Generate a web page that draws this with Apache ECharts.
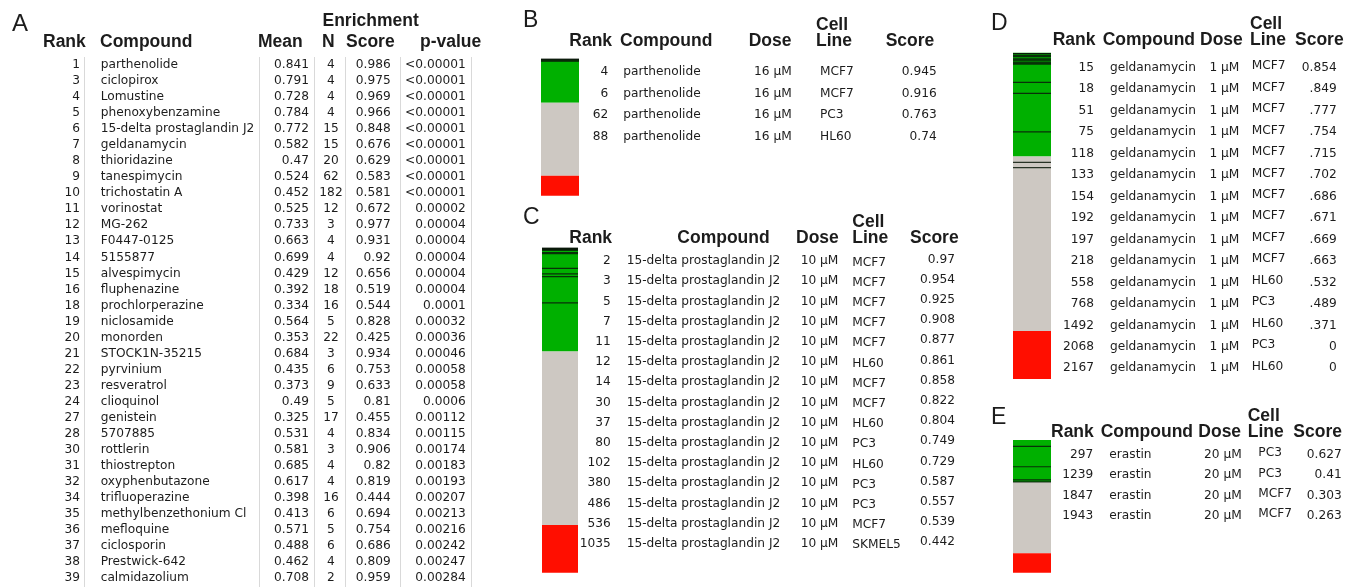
<!DOCTYPE html>
<html>
<head>
<meta charset="utf-8">
<script src="https://cdn.jsdelivr.net/npm/echarts@6/dist/echarts.min.js"></script>
<style>
html,body{margin:0;padding:0;background:#fff;}
#chart{width:1360px;height:587px;}
</style>
</head>
<body>
<div id="chart"></div>
<script>
// ---------------- DATA ----------------
// Panel A: enrichment table
const rankA = [1,3,4,5,6,7,8,9,10,11,12,13,14,15,16,18,19,20,21,22,23,24,27,28,30,31,32,34,35,36,37,38,39];
const compoundA = ['parthenolide','ciclopirox','Lomustine','phenoxybenzamine','15-delta prostaglandin J2','geldanamycin','thioridazine','tanespimycin','trichostatin A','vorinostat','MG-262','F0447-0125','5155877','alvespimycin','fluphenazine','prochlorperazine','niclosamide','monorden','STOCK1N-35215','pyrvinium','resveratrol','clioquinol','genistein','5707885','rottlerin','thiostrepton','oxyphenbutazone','trifluoperazine','methylbenzethonium Cl','mefloquine','ciclosporin','Prestwick-642','calmidazolium'];
const meanA = [0.841,0.791,0.728,0.784,0.772,0.582,0.47,0.524,0.452,0.525,0.733,0.663,0.699,0.429,0.392,0.334,0.564,0.353,0.684,0.435,0.373,0.49,0.325,0.531,0.581,0.685,0.617,0.398,0.413,0.571,0.488,0.462,0.708];
const nA = [4,4,4,4,15,15,20,62,182,12,3,4,4,12,18,16,5,22,3,6,9,5,17,4,3,4,4,16,6,5,6,4,2];
const scoreA = [0.986,0.975,0.969,0.966,0.848,0.676,0.629,0.583,0.581,0.672,0.977,0.931,0.92,0.656,0.519,0.544,0.828,0.425,0.934,0.753,0.633,0.81,0.455,0.834,0.906,0.82,0.819,0.444,0.694,0.754,0.686,0.809,0.959];
const pValueA = ['<0.00001','<0.00001','<0.00001','<0.00001','<0.00001','<0.00001','<0.00001','<0.00001','<0.00001','0.00002','0.00004','0.00004','0.00004','0.00004','0.00004','0.0001','0.00032','0.00036','0.00046','0.00058','0.00058','0.0006','0.00112','0.00115','0.00174','0.00183','0.00193','0.00207','0.00213','0.00216','0.00242','0.00247','0.00284'];

// Barcode scale (instance ranks)
const totalInstances = 6150;
const positiveEnd = 1955;
const negativeStart = 5245;

// Panel B
const rankB = [4,6,62,88];
const compoundB = ['parthenolide','parthenolide','parthenolide','parthenolide'];
const doseB = ['16 µM','16 µM','16 µM','16 µM'];
const cellB = ['MCF7','MCF7','PC3','HL60'];
const scoreB = ['0.945','0.916','0.763','0.74'];

// Panel C
const rankC = [2,3,5,7,11,12,14,30,37,80,102,380,486,536,1035];
const compoundC = Array(15).fill('15-delta prostaglandin J2');
const doseC = Array(15).fill('10 µM');
const cellC = ['MCF7','MCF7','MCF7','MCF7','MCF7','HL60','MCF7','MCF7','HL60','PC3','HL60','PC3','PC3','MCF7','SKMEL5'];
const scoreC = ['0.97','0.954','0.925','0.908','0.877','0.861','0.858','0.822','0.804','0.749','0.729','0.587','0.557','0.539','0.442'];

// Panel D
const rankD = [15,18,51,75,118,133,154,192,197,218,558,768,1492,2068,2167];
const compoundD = Array(15).fill('geldanamycin');
const doseD = Array(15).fill('1 µM');
const cellD = ['MCF7','MCF7','MCF7','MCF7','MCF7','MCF7','MCF7','MCF7','MCF7','MCF7','HL60','PC3','HL60','PC3','HL60'];
const scoreD = ['0.854','.849','.777','.754','.715','.702','.686','.671','.669','.663','.532','.489','.371','0','0'];

// Panel E
const rankE = [297,1239,1847,1943];
const compoundE = ['erastin','erastin','erastin','erastin'];
const doseE = ['20 µM','20 µM','20 µM','20 µM'];
const cellE = ['PC3','PC3','MCF7','MCF7'];
const scoreE = ['0.627','0.41','0.303','0.263'];

// ---------------- STYLE / LAYOUT ----------------
const HEAD_FONT = 'bold 17.5px "Liberation Sans", Arial, Helvetica, sans-serif';
const BODY_FONT = '12.2px "DejaVu Sans", Verdana, sans-serif';
const LETTER_FONT = '23px "Liberation Sans", Arial, Helvetica, sans-serif';
const TXT = '#1c1c1c';
const regionColors = ['#00b000', '#cdc8c2', '#ff0e00'];

const graphics = [];
function T(x, y, text, font, align, fill) {
  graphics.push({
    type: 'text', silent: true,
    style: { text: String(text), x: x, y: y, font: font, fill: fill || TXT, align: align || 'left', verticalAlign: 'middle' }
  });
}

// Panel letters
T(12, 24, 'A', '24px "Liberation Sans", Arial, sans-serif');
T(523, 21, 'B', LETTER_FONT);
T(523, 218, 'C', LETTER_FONT);
T(991, 24, 'D', LETTER_FONT);
T(991, 418, 'E', LETTER_FONT);

// Panel A column separators
[84.5, 259.5, 314.5, 345.5, 400.5, 471.5].forEach(function (x) {
  graphics.push({ type: 'line', silent: true, shape: { x1: x, y1: 57, x2: x, y2: 587 }, style: { stroke: '#d9d9d9', lineWidth: 1 } });
});

// Panel A headers
T(322.5, 21.5, 'Enrichment', HEAD_FONT);
T(43, 42, 'Rank', HEAD_FONT);
T(100, 42, 'Compound', HEAD_FONT);
T(258, 42, 'Mean', HEAD_FONT);
T(322, 42, 'N', HEAD_FONT);
T(346, 42, 'Score', HEAD_FONT);
T(420, 42, 'p-value', HEAD_FONT);

// Panel A rows
const rowA0 = 65, rowAstep = 16.03;
rankA.forEach(function (r, i) {
  const y = rowA0 + i * rowAstep;
  T(80, y, r, BODY_FONT, 'right');
  T(100.7, y, compoundA[i], BODY_FONT, 'left');
  T(309, y, meanA[i], BODY_FONT, 'right');
  T(331, y, nA[i], BODY_FONT, 'center');
  T(390.7, y, scoreA[i], BODY_FONT, 'right');
  T(465.7, y, pValueA[i], BODY_FONT, 'right');
});

// Instance tables
function instanceTable(cfg) {
  const h = cfg.head;
  T(h.rank, h.y2, 'Rank', HEAD_FONT);
  T(h.comp, h.y2, 'Compound', HEAD_FONT);
  T(h.dose, h.y2, 'Dose', HEAD_FONT);
  T(h.cell, h.y1, 'Cell', HEAD_FONT);
  T(h.cell, h.y2, 'Line', HEAD_FONT);
  T(h.score, h.y2, 'Score', HEAD_FONT);
  const c = cfg.cols;
  cfg.rank.forEach(function (r, i) {
    const y = cfg.y0 + i * cfg.dy;
    T(c.rank, y, r, BODY_FONT, 'right');
    T(c.comp, y, cfg.comp[i], BODY_FONT, 'left');
    T(c.dose, y, cfg.dose[i], BODY_FONT, 'right');
    T(c.cell, y + c.cellDy, cfg.cell[i], BODY_FONT, 'left');
    T(c.score, y + c.scoreDy, cfg.score[i], BODY_FONT, 'right');
  });
}
instanceTable({
  rank: rankB, comp: compoundB, dose: doseB, cell: cellB, score: scoreB,
  y0: 72.3, dy: 21.4,
  head: { rank: 569.3, comp: 620, dose: 748.7, cell: 816, score: 885.7, y1: 25, y2: 41 },
  cols: { rank: 608.3, comp: 623.3, dose: 791.7, cell: 820, score: 936.7, cellDy: 0, scoreDy: 0 }
});
instanceTable({
  rank: rankC, comp: compoundC, dose: doseC, cell: cellC, score: scoreC,
  y0: 261, dy: 20.2,
  head: { rank: 569.3, comp: 677.3, dose: 796, cell: 852.3, score: 910, y1: 222.5, y2: 238.5 },
  cols: { rank: 610.7, comp: 626.7, dose: 838.3, cell: 852.3, score: 955, cellDy: 1.5, scoreDy: -1.5 }
});
instanceTable({
  rank: rankD, comp: compoundD, dose: doseD, cell: cellD, score: scoreD,
  y0: 67.7, dy: 21.47,
  head: { rank: 1052.7, comp: 1102.7, dose: 1200, cell: 1250, score: 1295, y1: 24.5, y2: 40.5 },
  cols: { rank: 1094, comp: 1110, dose: 1239.3, cell: 1251.7, score: 1336.7, cellDy: -1.7, scoreDy: 0 }
});
instanceTable({
  rank: rankE, comp: compoundE, dose: doseE, cell: cellE, score: scoreE,
  y0: 455, dy: 20.2,
  head: { rank: 1051, comp: 1100.7, dose: 1198.3, cell: 1247.7, score: 1293.3, y1: 416.5, y2: 432.5 },
  cols: { rank: 1093.3, comp: 1109.3, dose: 1241.7, cell: 1258.3, score: 1341.7, cellDy: -1.7, scoreDy: 0 }
});

// ---------------- BARCODES ----------------
const barGrids = [
  { left: 541, top: 59.3, width: 38, height: 136.4, ranks: rankB },
  { left: 542, top: 248.3, width: 36, height: 324.4, ranks: rankC },
  { left: 1013, top: 52.7, width: 38, height: 326.3, ranks: rankD },
  { left: 1013, top: 440, width: 38, height: 132.7, ranks: rankE }
];
const regionData = [[0, positiveEnd, 0], [positiveEnd, negativeStart, 1], [negativeStart, totalInstances, 2]];

const grid = [], xAxis = [], yAxis = [], series = [];
barGrids.forEach(function (g, i) {
  grid.push({ left: g.left, top: g.top, width: g.width, height: g.height, containLabel: false });
  xAxis.push({ type: 'value', gridIndex: i, min: 0, max: 1, show: false });
  yAxis.push({ type: 'value', gridIndex: i, min: 0, max: totalInstances, inverse: true, show: false });
  series.push({
    type: 'custom', xAxisIndex: i, yAxisIndex: i, silent: true,
    data: regionData,
    renderItem: function (params, api) {
      const p0 = api.coord([0, api.value(0)]);
      const p1 = api.coord([1, api.value(1)]);
      return { type: 'rect', shape: { x: p0[0], y: p0[1], width: p1[0] - p0[0], height: p1[1] - p0[1] }, style: { fill: regionColors[api.value(2)] } };
    }
  });
  series.push({
    type: 'custom', xAxisIndex: i, yAxisIndex: i, silent: true,
    data: g.ranks.map(function (r) { return [0, r]; }),
    renderItem: function (params, api) {
      const a = api.coord([0, api.value(1)]);
      const b = api.coord([1, api.value(1)]);
      return { type: 'line', shape: { x1: a[0], y1: a[1], x2: b[0], y2: b[1] }, style: { stroke: 'rgba(10,25,10,0.85)', lineWidth: 1.2 } };
    }
  });
});

const chart = echarts.init(document.getElementById('chart'), null, { renderer: 'canvas' });
chart.setOption({
  animation: false,
  backgroundColor: '#ffffff',
  grid: grid, xAxis: xAxis, yAxis: yAxis, series: series,
  graphic: { elements: graphics }
});
</script>
</body>
</html>
